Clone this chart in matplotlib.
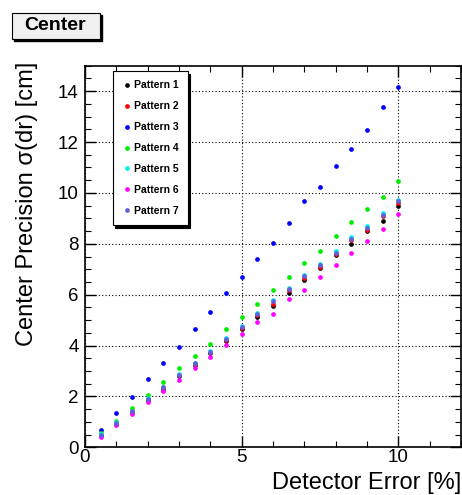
import matplotlib.pyplot as plt
from matplotlib.patches import Rectangle

plt.rcParams['font.family'] = ['Liberation Sans', 'DejaVu Sans']

# detector error [%]
err = [0.5, 1.0, 1.5, 2.0, 2.5, 3.0, 3.5, 4.0, 4.5, 5.0,
       5.5, 6.0, 6.5, 7.0, 7.5, 8.0, 8.5, 9.0, 9.5, 10.0]

# center precision sigma(dr) [cm] per pattern
p1 = [0.47, 0.93, 1.38, 1.86, 2.31, 2.80, 3.25, 3.70, 4.18, 4.66,
      5.14, 5.55, 6.08, 6.56, 7.05, 7.54, 8.00, 8.49, 8.90, 9.47]
p2 = [0.49, 0.95, 1.41, 1.89, 2.34, 2.83, 3.28, 3.74, 4.23, 4.70,
      5.20, 5.65, 6.18, 6.65, 7.10, 7.60, 8.15, 8.55, 9.10, 9.62]
p3 = [0.67, 1.34, 1.99, 2.67, 3.31, 3.96, 4.64, 5.31, 6.07, 6.71,
      7.42, 8.03, 8.83, 9.67, 10.22, 11.05, 11.73, 12.47, 13.38, 14.18]
p4 = [0.55, 1.05, 1.55, 2.06, 2.57, 3.11, 3.60, 4.07, 4.64, 5.11,
      5.65, 6.19, 6.71, 7.24, 7.73, 8.32, 8.85, 9.36, 9.82, 10.47]
p5 = [0.52, 0.98, 1.43, 1.92, 2.38, 2.88, 3.33, 3.79, 4.28, 4.77,
      5.28, 5.78, 6.28, 6.78, 7.20, 7.70, 8.25, 8.68, 9.20, 9.72]
p6 = [0.42, 0.89, 1.32, 1.77, 2.21, 2.66, 3.12, 3.55, 4.01, 4.44,
      4.92, 5.25, 5.82, 6.19, 6.71, 7.18, 7.64, 8.11, 8.60, 9.19]
p7 = [0.50, 0.96, 1.42, 1.90, 2.36, 2.85, 3.31, 3.76, 4.26, 4.74,
      5.24, 5.74, 6.24, 6.74, 7.16, 7.65, 8.20, 8.62, 9.15, 9.67]

names = ['Pattern 1', 'Pattern 2', 'Pattern 3', 'Pattern 4',
         'Pattern 5', 'Pattern 6', 'Pattern 7']
colors = ['black', 'red', 'blue', '#00ee00', '#00eeee', '#ff00ff', '#6060dd']
series = [p1, p2, p3, p4, p5, p6, p7]

fig = plt.figure(figsize=(4.62, 4.95), dpi=100)
ax = fig.add_axes([85 / 462, 1 - 447.3 / 495, (461 - 85) / 462, (447.3 - 65.7) / 495])

for ys, c, n in zip(series, colors, names):
    ax.plot(err, ys, 'o', color=c, ms=3.4, mew=0, label=n)

ax.set_xlim(0, 12)
ax.set_ylim(0, 15)
ax.set_xticks([0, 5, 10])
ax.set_xticks(range(0, 13), minor=True)
ax.set_yticks(range(0, 15, 2))
ax.set_yticks([i * 0.5 for i in range(31)], minor=True)
ax.tick_params(which='both', direction='in', top=True, right=True, labelsize=13.5)
ax.tick_params(axis='x', which='both', pad=1)
ax.tick_params(axis='y', which='both', pad=4.5)
ax.tick_params(which='major', length=8, width=1)
ax.tick_params(which='minor', length=4, width=0.8)
ax.grid(True, which='major', linestyle=(0, (1, 2)), color='black', linewidth=0.8)
for s in ax.spines.values():
    s.set_linewidth(1.2)

ax.set_xlabel('Detector Error [%]', fontsize=17, ha='right')
ax.xaxis.set_label_coords(1.0, -0.066)
ax.set_ylabel('Center Precision σ(dr) [cm]', fontsize=17, ha='right')
ax.yaxis.set_label_coords(-0.125, 1.01)

# legend box with shadow
leg = ax.legend(loc='upper left', bbox_to_anchor=(112.7 / 462, 1 - 71 / 495),
                bbox_transform=fig.transFigure, frameon=True, fancybox=False,
                shadow={'color': 'black', 'alpha': 1.0}, prop={'weight': 'bold', 'size': 7.5},
                handletextpad=0.2, labelspacing=1.05, borderpad=0.9, markerscale=1.0,
                handlelength=0.9, borderaxespad=0)
leg.get_frame().set_edgecolor('black')
leg.get_frame().set_linewidth(0.8)

# title box
fig.patches.append(Rectangle((14 / 462, 1 - 41 / 495), 88 / 462, 26 / 495,
                             transform=fig.transFigure, facecolor='black', edgecolor='black'))
fig.patches.append(Rectangle((12 / 462, 1 - 39 / 495), 88 / 462, 26 / 495,
                             transform=fig.transFigure, facecolor='#f0f0f0',
                             edgecolor='black', linewidth=0.8))
fig.text(55 / 462, 1 - 26 / 495, 'Center', fontsize=14, fontweight='bold',
         ha='center', va='center')

fig.savefig('out.png', dpi=100)
